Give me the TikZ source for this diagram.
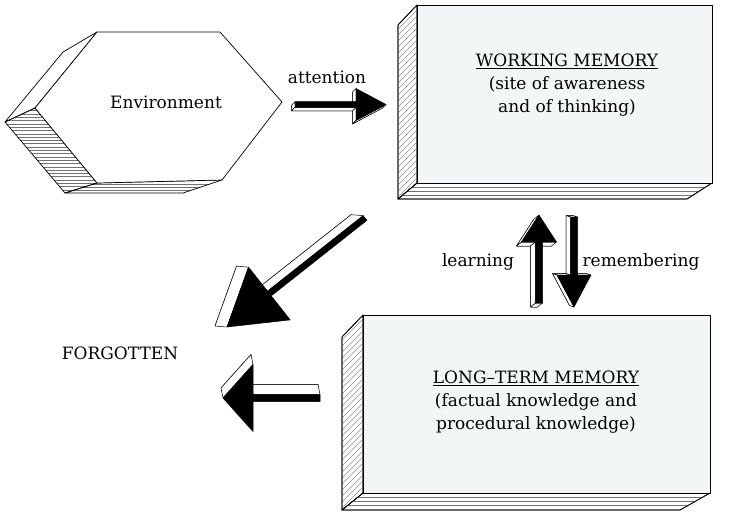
\documentclass[tikz,border=0pt]{standalone}
\usepackage{fontspec}
\setmainfont{DejaVu Serif}
\usetikzlibrary{calc}
\definecolor{boxfill}{RGB}{243,246,246}

\newcommand\faface[6]{%
  \pgfmathtruncatemacro\favis{((#5)*\favu+(#6)*\favn)>0.01}%
  \ifnum\favis=1\relax
    \filldraw[arrowside] (#1) -- (#2) -- (#3) -- (#4) -- cycle;
  \fi}

% #1,#2 tail; #3,#4 tip; #5 head length; #6 head half width; #7 shaft half width; #8,#9 extrusion
\newcommand\fatarrow[9]{%
  \pgfmathsetmacro\faL{veclen(#3-(#1),#4-(#2))}%
  \pgfmathsetmacro\faux{(#3-(#1))/\faL}%
  \pgfmathsetmacro\fauy{(#4-(#2))/\faL}%
  \pgfmathsetmacro\fanx{-\fauy}%
  \pgfmathsetmacro\fany{\faux}%
  \pgfmathsetmacro\favu{(#8)*\faux+(#9)*\fauy}%
  \pgfmathsetmacro\favn{(#8)*\fanx+(#9)*\fany}%
  \def\fapt##1##2##3{%
    \coordinate (f##1) at ({#1+(##2)*\faux+(##3)*\fanx},{#2+(##2)*\fauy+(##3)*\fany});
    \coordinate (b##1) at ($(f##1)+(#8,#9)$);}%
  \fapt{A}{0}{#7}%
  \fapt{B}{\faL-#5}{#7}%
  \fapt{C}{\faL-#5}{#6}%
  \fapt{D}{\faL}{0}%
  \fapt{E}{\faL-#5}{-#6}%
  \fapt{F}{\faL-#5}{-#7}%
  \fapt{G}{0}{-#7}%
  \filldraw[arrowside] (bA)--(bB)--(bC)--(bD)--(bE)--(bF)--(bG)--cycle;
  \faface{fB}{fC}{bC}{bB}{-1}{0}%
  \faface{fE}{fF}{bF}{bE}{-1}{0}%
  \faface{fG}{fA}{bA}{bG}{-1}{0}%
  \faface{fA}{fB}{bB}{bA}{0}{1}%
  \faface{fF}{fG}{bG}{bF}{0}{-1}%
  \faface{fC}{fD}{bD}{bC}{#6}{#5}%
  \faface{fD}{fE}{bE}{bD}{#6}{-#5}%
  \filldraw[arrowfront] (fA)--(fB)--(fC)--(fD)--(fE)--(fF)--(fG)--cycle;
}

\begin{document}
\begin{tikzpicture}[x=1pt,y=-1pt,line join=round,
  lbl/.style={font=\fontsize{17}{23}\selectfont,inner sep=0pt,align=center},
  face/.style={draw=black,line width=0.7pt},
  hatch/.style={draw=black!55,line width=0.35pt},
  arrowside/.style={fill=white,draw=black,line width=0.5pt},
  arrowfront/.style={fill=black,draw=black,line width=0.5pt}]
\useasboundingbox (0,0) rectangle (731,523);

% ---------- Environment hexagon ----------
\coordinate (e1) at (97,32);
\coordinate (e2) at (220,32);
\coordinate (e3) at (282,102);
\coordinate (e4) at (222,180);
\coordinate (e5) at (97,183);
\coordinate (e6) at (35,108);
\coordinate (e7) at (63,52);
\coordinate (e8) at (5,122);
\coordinate (e9) at (65,193);
\coordinate (e10) at (183,193);
\filldraw[face,fill=white] (e1)--(e7)--(e8)--(e6)--cycle;
\begin{scope}
  \clip (e6)--(e8)--(e9)--(e5)--cycle;
  \foreach \yy in {104,107.3,...,196} \draw[hatch] (0,\yy)--(110,\yy);
\end{scope}
\begin{scope}
  \clip (e5)--(e9)--(e10)--(e4)--cycle;
  \foreach \yy in {184,187,190} \draw[hatch] (60,\yy)--(230,\yy);
\end{scope}
\draw[face] (e6)--(e8)--(e9)--(e5)--cycle;
\draw[face] (e5)--(e9)--(e10)--(e4)--cycle;
\filldraw[face,fill=white] (e1)--(e2)--(e3)--(e4)--(e5)--(e6)--cycle;
\node[lbl] (env) at (166,102) {Environment};

% ---------- Working memory box ----------
\coordinate (w1) at (417,5);
\coordinate (w2) at (712,5);
\coordinate (w3) at (712,183);
\coordinate (w4) at (417,183);
\coordinate (w5) at (398,25);
\coordinate (w6) at (398,199);
\coordinate (w7) at (687,199);
\filldraw[face,fill=white] (w1)--(w5)--(w6)--(w4)--cycle;
\begin{scope}
  \clip (w1)--(w5)--(w6)--(w4)--cycle;
  \foreach \k in {-24,-18,...,200} \draw[hatch] (396,25+\k)--++(24,-24);
\end{scope}
\filldraw[face,fill=white] (w4)--(w6)--(w7)--(w3)--cycle;
\begin{scope}
  \clip (w4)--(w6)--(w7)--(w3)--cycle;
  \foreach \yy in {187,191,195} \draw[hatch] (390,\yy)--(720,\yy);
\end{scope}
\draw[face] (w1)--(w5)--(w6)--(w4)--cycle;
\draw[face] (w4)--(w6)--(w7)--(w3)--cycle;
\filldraw[face,fill=boxfill] (w1)--(w2)--(w3)--(w4)--cycle;
\node[lbl] (wm) at (567,85) {\underline{WORKING MEMORY}\\(site of awareness\\and of thinking)};

% ---------- Long-term memory box ----------
\coordinate (l1) at (363,315);
\coordinate (l2) at (710,315);
\coordinate (l3) at (710,493);
\coordinate (l4) at (363,493);
\coordinate (l5) at (342,337);
\coordinate (l6) at (342,510);
\coordinate (l7) at (680,510);
\filldraw[face,fill=white] (l1)--(l5)--(l6)--(l4)--cycle;
\begin{scope}
  \clip (l1)--(l5)--(l6)--(l4)--cycle;
  \foreach \k in {-25,-19,...,200} \draw[hatch] (340,337+\k)--++(24,-24);
\end{scope}
\filldraw[face,fill=white] (l4)--(l6)--(l7)--(l3)--cycle;
\begin{scope}
  \clip (l4)--(l6)--(l7)--(l3)--cycle;
  \foreach \yy in {497,501,505} \draw[hatch] (330,\yy)--(720,\yy);
\end{scope}
\draw[face] (l1)--(l5)--(l6)--(l4)--cycle;
\draw[face] (l4)--(l6)--(l7)--(l3)--cycle;
\filldraw[face,fill=boxfill] (l1)--(l2)--(l3)--(l4)--cycle;
\node[lbl] (ltm) at (536,402) {\underline{LONG--TERM MEMORY}\\(factual knowledge and\\procedural knowledge)};

% ---------- labels ----------
\node[lbl] (att) at (327,77) {attention};
\node[lbl] (learn) at (478,262) {learning};
\node[lbl] (rem) at (641,262) {remembering};
\node[lbl] (forg) at (120,353) {FORGOTTEN};

% ---------- arrows ----------
\fatarrow{295}{104.5}{386}{104.5}{30}{16}{2.8}{-3.5}{3.5}
\fatarrow{539}{303}{539}{215}{27}{17.5}{3.5}{-5}{4}
\fatarrow{574}{217}{574}{307}{32}{17}{3.5}{-4.5}{-1.5}
\fatarrow{365}{218}{227}{327}{54}{33.6}{3}{-12}{-1}
\fatarrow{320}{398}{223}{398}{30}{33.5}{3.5}{-2}{-10}
\end{tikzpicture}
\end{document}
